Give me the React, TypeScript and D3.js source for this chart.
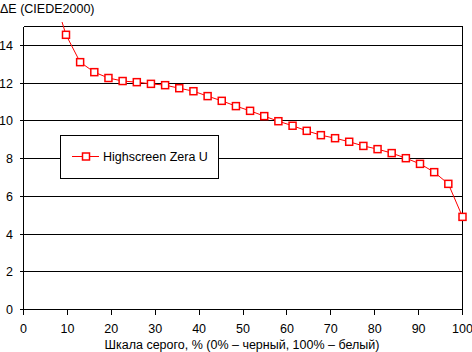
import React from "react";
import * as d3 from "d3";

// grey level, % (x) and measured ΔE (y)
const greyLevels = [
  6.45, 9.68, 12.9, 16.13, 19.35, 22.58, 25.81, 29.03, 32.26, 35.48, 38.71,
  41.94, 45.16, 48.39, 51.61, 54.84, 58.06, 61.29, 64.52, 67.74, 70.97, 74.19,
  77.42, 80.65, 83.87, 87.1, 90.32, 93.55, 96.77, 100,
];
const deltaE = [
  17.0, 14.56, 13.11, 12.58, 12.27, 12.11, 12.05, 11.96, 11.89, 11.73, 11.57,
  11.31, 11.06, 10.78, 10.53, 10.25, 9.98, 9.74, 9.47, 9.24, 9.08, 8.89, 8.67,
  8.5, 8.29, 8.02, 7.72, 7.28, 6.66, 4.91,
];
const xTicks = [0, 10, 20, 30, 40, 50, 60, 70, 80, 90, 100];
const yTicks = [0, 2, 4, 6, 8, 10, 12, 14];
const seriesName = "Highscreen Zera U";
const yTitle = "ΔE (CIEDE2000)";
const xTitle = "Шкала серого, % (0% – черный, 100% – белый)";

const W = 472;
const H = 352;
const font = "Arial, 'Liberation Sans', sans-serif";

export default function App() {
  const x = d3.scaleLinear().domain([0, 100]).range([23.5, 462.5]);
  const y = d3.scaleLinear().domain([0, 15]).range([309.5, 26.5]);

  const points = greyLevels.map((g, i) => ({ g, v: deltaE[i] }));
  const line = d3
    .line<{ g: number; v: number }>()
    .x((d) => x(d.g))
    .y((d) => y(d.v));

  const red = "#ff0000";
  const ms = 7;

  return (
    <svg
      width={W}
      height={H}
      style={{ position: "absolute", left: 0, top: 0, background: "#fff" }}
      fontFamily={font}
    >
      <defs>
        <clipPath id="clip">
          <rect x={0} y={22} width={W} height={H - 22} />
        </clipPath>
      </defs>

      <text x={0} y={13} fontSize={12.5} fill="#000">
        {yTitle}
      </text>

      {/* grid + frame */}
      <g shapeRendering="crispEdges" stroke="#000" strokeWidth={1}>
        {yTicks.concat([15]).map((t) => (
          <line key={"g" + t} x1={x(0)} x2={x(100)} y1={y(t)} y2={y(t)} />
        ))}
        <line x1={x(0)} x2={x(0)} y1={y(15)} y2={y(0)} />
        <line x1={x(100)} x2={x(100)} y1={y(15)} y2={y(0)} />
        {yTicks.map((t) => (
          <line key={"yt" + t} x1={x(0) - 4} x2={x(0)} y1={y(t)} y2={y(t)} />
        ))}
        {xTicks.map((t) => (
          <line key={"xt" + t} x1={x(t)} x2={x(t)} y1={y(0)} y2={y(0) + 5} />
        ))}
      </g>

      {yTicks.map((t) => (
        <text
          key={"yl" + t}
          x={13}
          y={y(t) + 4.5}
          fontSize={12.5}
          textAnchor="end"
          fill="#000"
        >
          {t}
        </text>
      ))}
      {xTicks.map((t) => (
        <text
          key={"xl" + t}
          x={x(t)}
          y={333}
          fontSize={12.5}
          textAnchor="middle"
          fill="#000"
        >
          {t}
        </text>
      ))}
      <text x={242} y={349} fontSize={12.5} textAnchor="middle" fill="#000">
        {xTitle}
      </text>

      {/* series */}
      <g clipPath="url(#clip)">
        <path d={line(points) || ""} fill="none" stroke={red} strokeWidth={1} />
        {points.map((d, i) => (
          <rect
            key={i}
            x={x(d.g) - ms / 2}
            y={y(d.v) - ms / 2}
            width={ms}
            height={ms}
            fill="#fff"
            stroke={red}
            strokeWidth={1.5}
          />
        ))}
      </g>

      {/* legend */}
      <rect
        x={60.5}
        y={135.5}
        width={158}
        height={43}
        fill="#fff"
        stroke="#000"
        shapeRendering="crispEdges"
      />
      <line x1={72} x2={99} y1={156.5} y2={156.5} stroke={red} />
      <rect
        x={86 - ms / 2}
        y={156.5 - ms / 2}
        width={ms}
        height={ms}
        fill="#fff"
        stroke={red}
        strokeWidth={1.5}
      />
      <text x={103} y={161} fontSize={12.5} fill="#000">
        {seriesName}
      </text>
    </svg>
  );
}
